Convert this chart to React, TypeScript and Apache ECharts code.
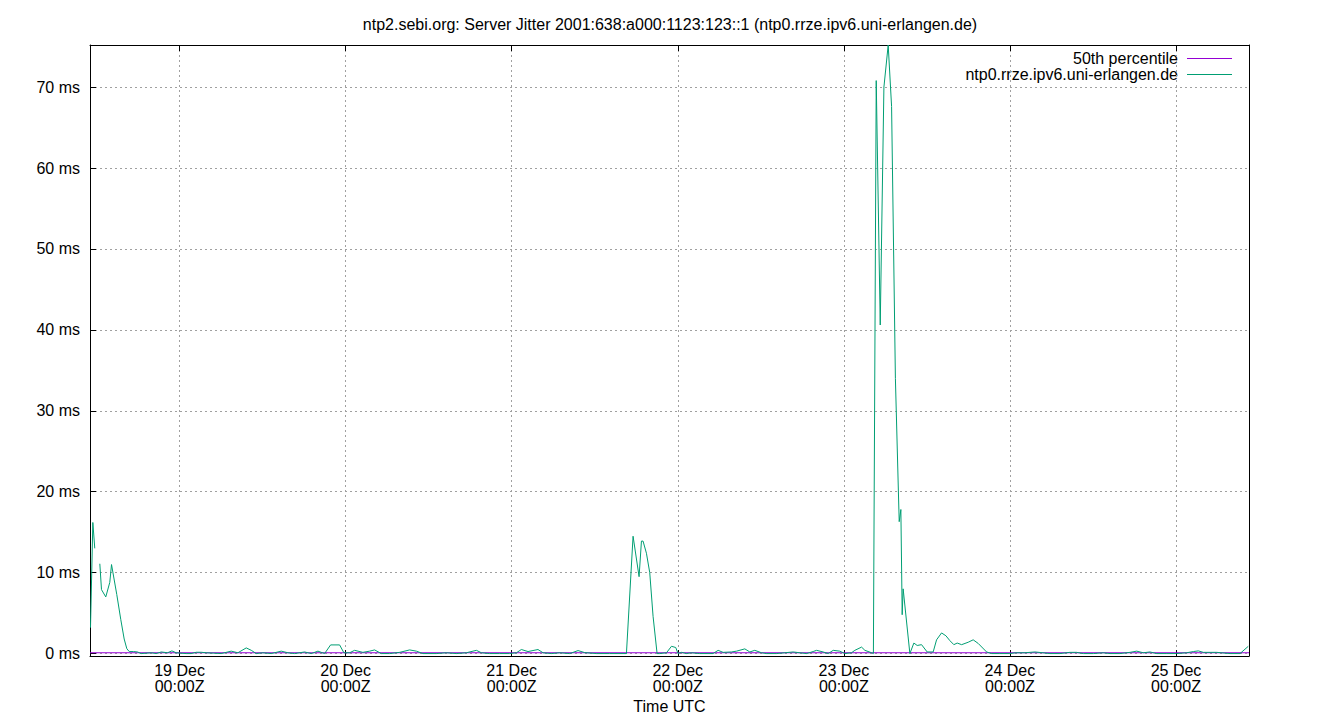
import React, { useEffect, useRef } from 'react';
import * as echarts from 'echarts';

// hours relative to 19 Dec 00:00Z
const hours = [
  -12.87, -12.53, -12.25, -11.9, -11.52, -11.28, -10.66, -10.08, -9.83, -9.07, -8.49, -8.0, -7.62, -7.27,
  -6.65, -6.07, -5.54, -4.09, -3.37, -2.65, -1.73, -1.11, -0.48, 0.14, 0.97, 1.69, 2.41, 3.14, 3.86,
  4.92, 6.03, 7.47, 8.43, 9.64, 10.37, 11.09, 12.04, 13.26, 14.7, 15.66, 16.63, 18.07, 19.04, 20.0,
  20.96, 21.83, 23.13, 23.75, 24.58, 25.3, 26.5, 27.47, 28.19, 29.16, 30.36, 31.81, 33.25, 34.22,
  35.18, 37.11, 38.56, 40.0, 41.45, 42.9, 43.62, 44.82, 46.27, 47.71, 48.68, 49.4, 50.36, 51.8, 52.53,
  53.74, 54.94, 56.39, 57.59, 58.55, 60.25, 62.17, 64.58, 65.54, 66.41, 66.75, 66.98, 67.47, 67.95,
  68.43, 69.01, 69.4, 70.37, 71.09, 71.71, 72.04, 72.54, 73.26, 73.98, 75.18, 77.1, 77.83, 78.55,
  79.76, 80.49, 81.69, 82.41, 83.13, 84.1, 84.82, 86.27, 87.47, 88.67, 89.64, 90.61, 91.56, 92.06,
  93.01, 93.74, 94.46, 95.42, 96.15, 97.11, 97.59, 98.56, 99.04, 100.01, 100.27, 100.68, 101.26,
  101.79, 102.41, 102.9, 103.45, 104.0, 104.24, 104.43, 104.57, 105.54, 106.12, 106.6, 107.23,
  108.04, 108.91, 109.4, 110.12, 110.75, 111.32, 111.9, 112.38, 113.02, 113.97, 114.69, 115.42,
  116.63, 117.36, 118.55, 120.0, 120.87, 122.17, 123.61, 124.77, 125.78, 127.23, 128.67, 129.64,
  130.6, 132.05, 133.49, 134.46, 135.9, 137.35, 138.32, 139.28, 140.24, 141.21, 142.66, 144.1,
  145.55, 146.51, 147.23, 147.95, 148.92, 149.89, 151.81, 153.25, 154.45,
];

const jitterMs: (number | null)[] = [
  3.2, 16.2, 13.0, null, 11.1, 7.9, 7.0, 8.8, 11.0, 7.3, 4.2, 1.8, 0.6, 0.25,
  0.25, 0.2, 0.0, 0.1, 0.0, 0.2, 0.1, 0.33, 0.1, 0.05, 0.0, 0.0, 0.16, 0.16, 0.1,
  0.05, 0.0, 0.3, 0.1, 0.7, 0.4, 0.0, 0.1, 0.0, 0.3, 0.1, 0.0, 0.2, 0.0, 0.3,
  0.0, 1.07, 1.07, 0.1, 0.1, 0.4, 0.15, 0.3, 0.45, 0.0, 0.0, 0.15, 0.45, 0.3,
  0.0, 0.0, 0.1, 0.0, 0.1, 0.4, 0.1, 0.0, 0.0, 0.0, 0.1, 0.5, 0.25, 0.5, 0.1,
  0.0, 0.1, 0.0, 0.37, 0.12, 0.0, 0.0, 0.0, 14.5, 9.5, 13.9, 13.9, 12.4, 10.0,
  4.6, 0.0, 0.0, 0.1, 0.9, 0.75, 0.0, 0.15, 0.0, 0.1, 0.0, 0.0, 0.4, 0.15,
  0.2, 0.3, 0.58, 0.2, 0.4, 0.1, 0.0, 0.0, 0.1, 0.2, 0.1, 0.0, 0.25, 0.4,
  0.2, 0.0, 0.4, 0.3, 0.0, 0.1, 0.4, 0.8, 0.4, 0.1, 0.0, 70.8, 40.6,
  70.0, 75.2, 67.6, 34.0, 16.3, 17.8, 4.8, 8.0, 0.0, 1.3, 1.0, 1.1,
  0.2, 0.2, 1.7, 2.55, 2.2, 1.6, 1.1, 1.3, 1.1, 1.4, 1.7, 1.25,
  0.2, 0.0, 0.0, 0.0, 0.1, 0.1, 0.2, 0.1, 0.0, 0.0, 0.15, 0.15,
  0.0, 0.0, 0.1, 0.0, 0.0, 0.15, 0.3, 0.1, 0.2, 0.0, 0.0, 0.0,
  0.1, 0.25, 0.33, 0.15, 0.15, 0.15, 0.0, 0.0, 0.9,
];

const medianMs = 0.1;

const xStart = -12.94;
const xEnd = 154.55;
const dayTicks = [0, 24, 48, 72, 96, 120, 144];
const dayLabels = ['19 Dec', '20 Dec', '21 Dec', '22 Dec', '23 Dec', '24 Dec', '25 Dec'];
const msTicks = [0, 10, 20, 30, 40, 50, 60, 70];

const FONT = '"Liberation Sans", Arial, sans-serif';

const App: React.FC = () => {
  const chartRef = useRef<HTMLDivElement>(null);

  useEffect(() => {
    if (!chartRef.current) return;
    const chart = echarts.init(chartRef.current, undefined, { renderer: 'svg' });

    const gridLine = { show: true, lineStyle: { color: '#a0a0a0', type: [2, 3] as number[], width: 1 } };

    const option: echarts.EChartsOption = {
      animation: false,
      backgroundColor: '#ffffff',
      textStyle: { fontFamily: FONT },
      title: {
        text: 'ntp2.sebi.org: Server Jitter 2001:638:a000:1123:123::1 (ntp0.rrze.ipv6.uni-erlangen.de)',
        left: 'center',
        top: 11,
        textStyle: { fontFamily: FONT, fontSize: 16, fontWeight: 'normal', color: '#000' },
      },
      grid: { left: 90, right: 91, top: 45, bottom: 64 },
      xAxis: [
        {
          type: 'value',
          min: xStart,
          max: xEnd,
          name: 'Time UTC',
          nameLocation: 'middle',
          nameGap: 42,
          nameTextStyle: { fontFamily: FONT, fontSize: 16, color: '#000' },
          axisLine: { show: true, onZero: false, lineStyle: { color: '#000', width: 1 } },
          axisTick: { show: true, inside: true, length: 6, customValues: dayTicks, lineStyle: { color: '#000' } },
          axisLabel: {
            customValues: dayTicks,
            fontFamily: FONT,
            fontSize: 16,
            color: '#000',
            lineHeight: 16,
            margin: 6,
            formatter: (v: number) => `${dayLabels[dayTicks.indexOf(Math.round(v))]}\n00:00Z`,
          },
          splitLine: gridLine,
        },
        {
          type: 'value',
          position: 'top',
          min: xStart,
          max: xEnd,
          axisLine: { show: true, onZero: false, lineStyle: { color: '#000', width: 1 } },
          axisTick: { show: true, inside: true, length: 6, customValues: dayTicks, lineStyle: { color: '#000' } },
          axisLabel: { show: false },
          splitLine: { show: false },
        },
      ],
      yAxis: [
        {
          type: 'value',
          min: -0.3,
          max: 75.2,
          axisLine: { show: true, onZero: false, lineStyle: { color: '#000', width: 1 } },
          axisTick: { show: true, inside: true, length: 6, customValues: msTicks, lineStyle: { color: '#000' } },
          axisLabel: {
            customValues: msTicks,
            fontFamily: FONT,
            fontSize: 16,
            color: '#000',
            margin: 10,
            formatter: (v: number) => `${Math.round(v)} ms`,
          },
          splitLine: gridLine,
        },
        {
          type: 'value',
          position: 'right',
          min: -0.3,
          max: 75.2,
          axisLine: { show: true, onZero: false, lineStyle: { color: '#000', width: 1 } },
          axisTick: { show: false },
          axisLabel: { show: false },
          splitLine: { show: false },
        },
      ],
      series: [
        {
          name: '50th percentile',
          type: 'line',
          data: [[xStart, medianMs], [xEnd, medianMs]],
          showSymbol: false,
          lineStyle: { color: '#9400d3', width: 1 },
          itemStyle: { color: '#9400d3' },
        },
        {
          name: 'ntp0.rrze.ipv6.uni-erlangen.de',
          type: 'line',
          data: hours.map((h, i) => [h, jitterMs[i]]),
          showSymbol: false,
          connectNulls: false,
          lineStyle: { color: '#009e73', width: 1 },
          itemStyle: { color: '#009e73' },
        },
      ],
      graphic: [
        {
          type: 'text',
          right: 162,
          top: 50,
          style: { text: '50th percentile', font: `16px ${FONT}`, fill: '#000', textAlign: 'right' },
        },
        {
          type: 'line',
          shape: { x1: 1187, y1: 58.5, x2: 1232, y2: 58.5 },
          style: { stroke: '#9400d3', lineWidth: 1 },
        },
        {
          type: 'text',
          right: 162,
          top: 66,
          style: { text: 'ntp0.rrze.ipv6.uni-erlangen.de', font: `16px ${FONT}`, fill: '#000', textAlign: 'right' },
        },
        {
          type: 'line',
          shape: { x1: 1187, y1: 74.5, x2: 1232, y2: 74.5 },
          style: { stroke: '#009e73', lineWidth: 1 },
        },
      ],
    };

    chart.setOption(option);
    return () => chart.dispose();
  }, []);

  return (
    <div
      ref={chartRef}
      style={{ position: 'absolute', left: 0, top: 0, width: 1340, height: 720, background: '#fff' }}
    />
  );
};

export default App;
